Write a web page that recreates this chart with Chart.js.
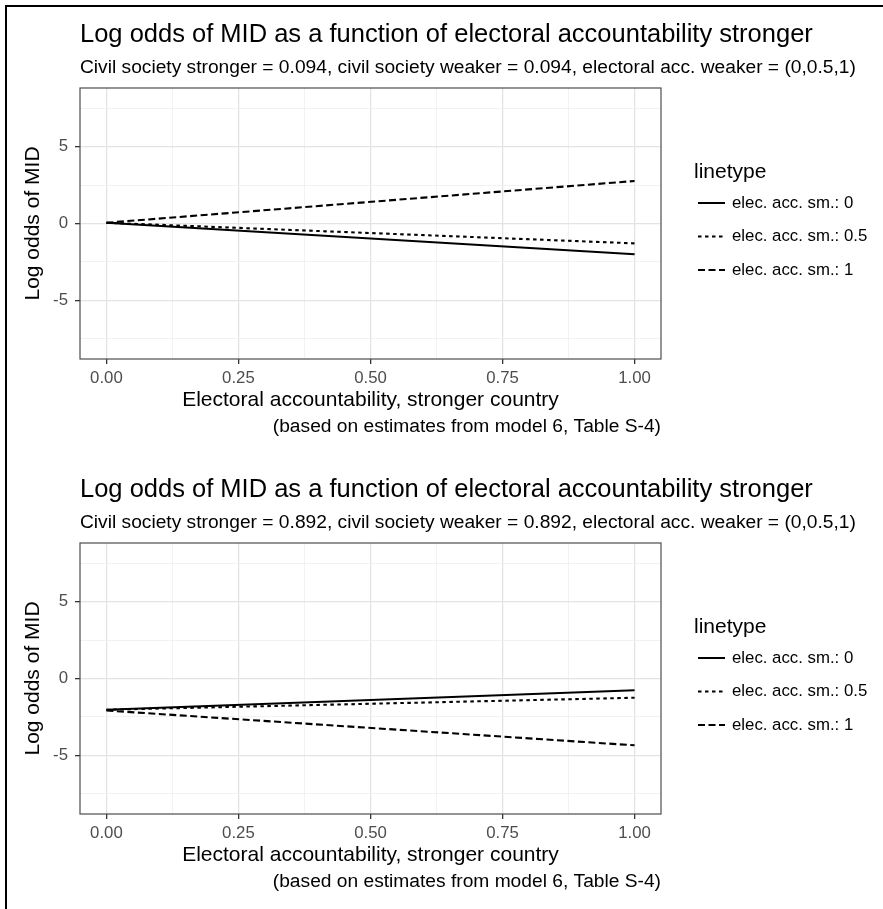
<!doctype html>
<html>
<head>
<title>Log odds of MID</title>
<script src="https://cdn.jsdelivr.net/npm/chart.js@4/dist/chart.umd.min.js"></script>
<style>
	body { margin: 0; background: #fff; }
	#page { position: relative; width: 883px; height: 909px; }
	#frame { position: absolute; left: 5px; top: 5px; width: 878px; height: 904px; border-left: 2px solid #000; border-top: 2px solid #000; }
	.panel { position: absolute; left: 0; width: 883px; height: 455px; }
</style>
</head>
<body>
<div id="page">
	<div id="frame"></div>
	<div class="panel" style="top:0"><canvas id="top" width="883" height="455"></canvas></div>
	<div class="panel" style="top:455px"><canvas id="bottom" width="883" height="455"></canvas></div>
</div>
<script>
// x positions of the fitted lines (electoral accountability, stronger country)
const xValues = [0, 1];

// top panel: civil society = 0.094
const topAcc0 = [0.05, -2.0];
const topAcc05 = [0.05, -1.29];
const topAcc1 = [0.05, 2.76];

// bottom panel: civil society = 0.892
const botAcc0 = [-2.03, -0.76];
const botAcc05 = [-2.03, -1.25];
const botAcc1 = [-2.08, -4.34];

const seriesLabels = ['elec. acc. sm.: 0', 'elec. acc. sm.: 0.5', 'elec. acc. sm.: 1'];
const seriesDash = [[], [3.5, 3.5], [7, 3.5]];

const xBreaks = [0, 0.25, 0.5, 0.75, 1];
const xMinor = [0.125, 0.375, 0.625, 0.875];
const yBreaks = [-5, 0, 5];
const yMinor = [-7.5, -2.5, 2.5, 7.5];

const mainTitle = 'Log odds of MID as a function of electoral accountability stronger';
const subTitles = [
	'Civil society stronger = 0.094, civil society weaker = 0.094, electoral acc. weaker = (0,0.5,1)',
	'Civil society stronger = 0.892, civil society weaker = 0.892, electoral acc. weaker = (0,0.5,1)'
];
const captionText = '(based on estimates from model 6, Table S-4)';
const xTitle = 'Electoral accountability, stronger country';
const yTitle = 'Log odds of MID';
const legendTitle = 'linetype';

const FONT = '"Liberation Sans", Arial, sans-serif';

const ggText = {
	id: 'ggText',
	afterDatasetsDraw(chart, args, opts) {
		const ctx = chart.ctx;
		const a = chart.chartArea;
		ctx.save();
		// panel border
		ctx.strokeStyle = '#4d4d4d';
		ctx.lineWidth = 1.2;
		ctx.strokeRect(a.left, a.top, a.right - a.left, a.bottom - a.top);

		ctx.fillStyle = '#000';
		ctx.textBaseline = 'middle';
		ctx.textAlign = 'left';
		ctx.font = '25.5px ' + FONT;
		ctx.fillText(mainTitle, a.left, 35);
		ctx.font = '19.2px ' + FONT;
		ctx.fillText(opts.subtitle, a.left, 68);

		ctx.font = '19.2px ' + FONT;
		ctx.textAlign = 'right';
		ctx.fillText(captionText, a.right, 427);

		// legend
		const lx = 698;
		const midY = (a.top + a.bottom) / 2;
		ctx.textAlign = 'left';
		ctx.font = '21px ' + FONT;
		ctx.fillText(legendTitle, lx - 4, midY - 51);
		ctx.font = '16.8px ' + FONT;
		chart.data.datasets.forEach((ds, i) => {
			const y = midY - 20.5 + i * 33.5;
			ctx.strokeStyle = '#000';
			ctx.lineWidth = 2;
			ctx.setLineDash(ds.borderDash);
			ctx.beginPath();
			ctx.moveTo(lx, y);
			ctx.lineTo(lx + 27, y);
			ctx.stroke();
			ctx.setLineDash([]);
			ctx.fillStyle = '#000';
			ctx.fillText(ds.label, lx + 34, y);
		});
		ctx.restore();
	}
};

function isMajor(list, v) {
	return list.some(b => Math.abs(b - v) < 1e-9);
}

function makeChart(id, series, subtitle) {
	const datasets = series.map((vals, i) => ({
		label: seriesLabels[i],
		data: xValues.map((x, j) => ({ x: x, y: vals[j] })),
		showLine: true,
		borderColor: '#000',
		borderWidth: 2.1,
		borderDash: seriesDash[i],
		pointRadius: 0,
		fill: false
	}));
	return new Chart(document.getElementById(id), {
		type: 'scatter',
		data: { datasets: datasets },
		plugins: [ggText],
		options: {
			responsive: false,
			animation: false,
			events: [],
			layout: { padding: { left: 0, top: 88, right: 222, bottom: 0 } },
			plugins: {
				legend: { display: false },
				tooltip: { enabled: false },
				ggText: { subtitle: subtitle }
			},
			scales: {
				x: {
					type: 'linear',
					min: -0.05,
					max: 1.05,
					afterBuildTicks: s => { s.ticks = xBreaks.concat(xMinor).sort((p, q) => p - q).map(v => ({ value: v })); },
					afterFit: s => { s.height = 96; },
					border: { display: false },
					grid: {
						color: c => isMajor(xBreaks, c.tick.value) ? '#e3e3e3' : '#efefef',
						lineWidth: c => isMajor(xBreaks, c.tick.value) ? 1.3 : 0.8,
						tickColor: c => isMajor(xBreaks, c.tick.value) ? '#333' : 'rgba(0,0,0,0)',
						tickLength: 5,
						tickWidth: 1.3
					},
					ticks: {
						autoSkip: false,
						maxRotation: 0,
						padding: 4,
						color: '#4d4d4d',
						font: { family: FONT, size: 16.8 },
						callback: v => isMajor(xBreaks, v) ? v.toFixed(2) : ''
					},
					title: {
						display: true,
						text: xTitle,
						color: '#000',
						font: { family: FONT, size: 21 },
						padding: { top: 0, bottom: 42 }
					}
				},
				y: {
					type: 'linear',
					min: -8.8,
					max: 8.8,
					afterBuildTicks: s => { s.ticks = yBreaks.concat(yMinor).sort((p, q) => p - q).map(v => ({ value: v })); },
					afterFit: s => { s.width = 80; },
					border: { display: false },
					grid: {
						color: c => isMajor(yBreaks, c.tick.value) ? '#e3e3e3' : '#efefef',
						lineWidth: c => isMajor(yBreaks, c.tick.value) ? 1.3 : 0.8,
						tickColor: c => isMajor(yBreaks, c.tick.value) ? '#333' : 'rgba(0,0,0,0)',
						tickLength: 5,
						tickWidth: 1.3
					},
					ticks: {
						autoSkip: false,
						padding: 7,
						color: '#4d4d4d',
						font: { family: FONT, size: 16.8 },
						callback: v => isMajor(yBreaks, v) ? String(v) : ''
					},
					title: {
						display: true,
						text: yTitle,
						color: '#000',
						font: { family: FONT, size: 21 },
						padding: { top: 21, bottom: 0 }
					}
				}
			}
		}
	});
}

makeChart('top', [topAcc0, topAcc05, topAcc1], subTitles[0]);
makeChart('bottom', [botAcc0, botAcc05, botAcc1], subTitles[1]);
</script>
</body>
</html>
